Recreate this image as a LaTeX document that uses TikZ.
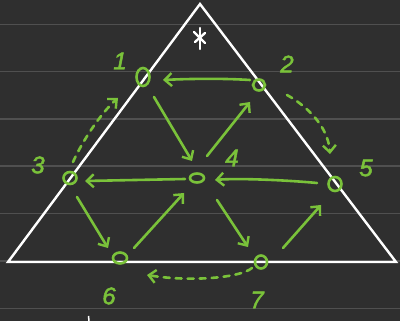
\documentclass[tikz,border=0pt]{standalone}
\usepackage{fontspec}
\setmainfont{Liberation Sans}
\usetikzlibrary{shapes.geometric,arrows.meta}
\definecolor{bg}{RGB}{47,47,47}
\definecolor{rule}{RGB}{80,80,80}
\definecolor{grn}{RGB}{122,194,58}
\tikzset{
  vtx/.style={ellipse, draw=grn, line width=2.6pt, inner sep=0pt},
  lbl/.style={text=grn, font=\fontsize{24}{24}\selectfont\itshape, inner sep=0pt},
  arr/.style={draw=grn, line width=2.6pt, line cap=round, -{Straight Barb[length=7pt,width=13pt,line width=2.4pt]}},
  darr/.style={arr, dash pattern=on 6pt off 6pt},
  ruleline/.style={draw=rule, line width=1.3pt},
  wline/.style={draw=white, line width=2.4pt, line cap=round},
}
\begin{document}
\begin{tikzpicture}[x=1pt,y=-1pt]
\fill[bg] (0,0) rectangle (400,321);
\useasboundingbox (0,0) rectangle (400,321);
\foreach \yy in {24.5,71.5,119,166,213.5,261,308.5}
  \draw[ruleline] (0,\yy) -- (400,\yy);
% triangle
\draw[wline, line join=miter] (200,4) -- (396,262) -- (8,262) -- cycle;
% asterisk
\draw[wline] (200,28) -- (200,49);
\draw[wline] (194,32) -- (205,43);
\draw[wline] (205,33) -- (195,42);
\draw[draw=white, line width=1.5pt] (88.5,316) -- (89,321);
% vertices
\node[vtx, minimum width=13pt, minimum height=18pt] (n1) at (143,77) {};
\node[vtx, minimum width=12pt, minimum height=11pt] (n2) at (259,85) {};
\node[vtx, minimum width=13pt, minimum height=12pt] (n3) at (70,178) {};
\node[vtx, minimum width=14pt, minimum height=9pt] (n4) at (197,178) {};
\node[vtx, minimum width=13pt, minimum height=14pt] (n5) at (335,184) {};
\node[vtx, minimum width=14pt, minimum height=11pt] (n6) at (120,258) {};
\node[vtx, minimum width=12pt, minimum height=13pt] (n7) at (261,262) {};
% labels
\node[lbl] (l1) at (120,61) {\addfontfeatures{FakeBold=2}1};
\node[lbl] (l2) at (287,64) {\addfontfeatures{FakeBold=2}2};
\node[lbl] (l3) at (38,165) {\addfontfeatures{FakeBold=2}3};
\node[lbl] (l4) at (232,158) {\addfontfeatures{FakeBold=2}4};
\node[lbl] (l5) at (366,168) {\addfontfeatures{FakeBold=2}5};
\node[lbl] (l6) at (109,296) {\addfontfeatures{FakeBold=2}6};
\node[lbl] (l7) at (257,300) {\addfontfeatures{FakeBold=2}7};
% solid arrows
\draw[arr] ([shift={(-9,-5)}]n2.center) .. controls ([shift={(-40,-7)}]n2.center) and ([shift={(40,2)}]n1.center) .. ([shift={(20,3)}]n1.center);
\draw[arr] ([shift={(11,20)}]n1.center) -- ([shift={(-5,-17)}]n4.center);
\draw[arr] ([shift={(10,-22)}]n4.center) -- ([shift={(-9,17)}]n2.center);
\draw[arr] ([shift={(-12,1)}]n4.center) -- ([shift={(15,3)}]n3.center);
\draw[arr] ([shift={(-18,-1)}]n5.center) .. controls ([shift={(-50,-4)}]n5.center) and ([shift={(40,0)}]n4.center) .. ([shift={(18,2)}]n4.center);
\draw[arr] ([shift={(7,19)}]n3.center) -- ([shift={(-12,-10)}]n6.center);
\draw[arr] ([shift={(14,-10)}]n6.center) -- ([shift={(-13,15)}]n4.center);
\draw[arr] ([shift={(20,22)}]n4.center) -- ([shift={(-13,-15)}]n7.center);
\draw[arr] ([shift={(22,-14)}]n7.center) -- ([shift={(-14,21)}]n5.center);
% dashed arrows
\draw[darr] ([shift={(3,-16)}]n3.center) .. controls (82,142) and (100,114) .. ([shift={(-25,21)}]n1.center);
\draw[darr] ([shift={(28,10)}]n2.center) .. controls (305,105) and (328,125) .. ([shift={(-5,-30)}]n5.center);
\draw[darr] ([shift={(-9,6)}]n7.center) .. controls (240,278) and (190,282) .. ([shift={(27,17)}]n6.center);
\end{tikzpicture}
\end{document}
